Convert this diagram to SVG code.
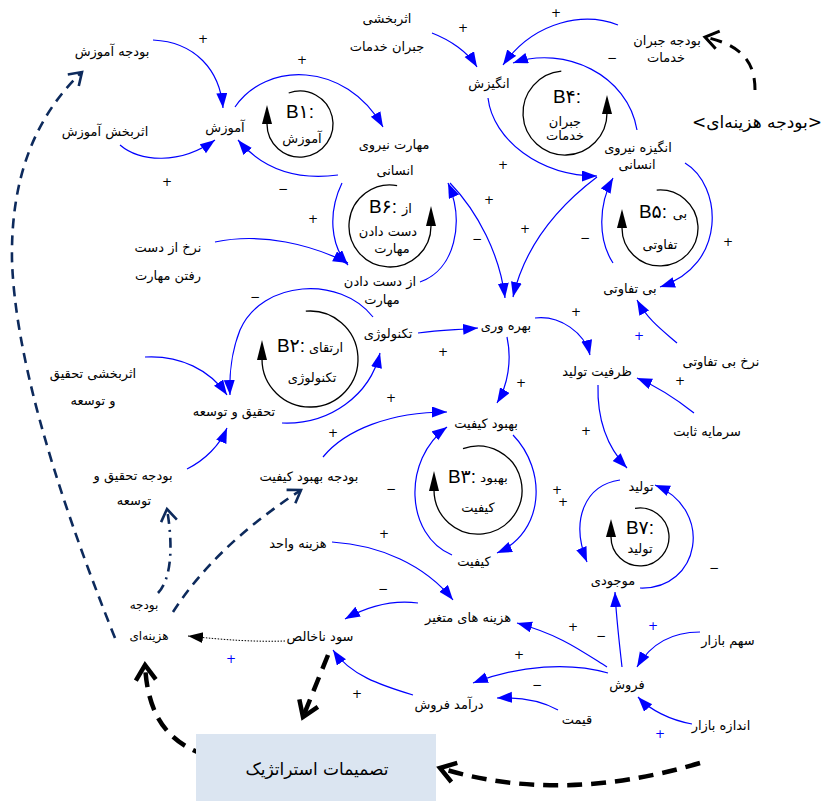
<svg xmlns="http://www.w3.org/2000/svg" width="824" height="801" viewBox="0 0 824 801">
<defs>
<style>
text{font-family:"DejaVu Sans",sans-serif;font-size:13px;fill:#000;text-anchor:middle}
.bl{font-family:"Liberation Sans","DejaVu Sans",sans-serif;font-size:19px}
.lp{font-size:13px}
.sg{font-size:12px}
.sb{font-size:12px;fill:#0000ff}
.c{fill:none;stroke:#0000ff;stroke-width:1.2}
.loop{fill:none;stroke:#000;stroke-width:1.3}
.nv{fill:none;stroke:#0d2a5c;stroke-width:2.6;stroke-dasharray:10 7}
.nvd{fill:none;stroke:#0d2a5c;stroke-width:2.6;stroke-dasharray:10 6 2 6}
.bk{fill:none;stroke:#000;stroke-width:4.5;stroke-dasharray:15 9}
.bk2{fill:none;stroke:#000;stroke-width:3;stroke-dasharray:12 9}
</style>
<marker id="ab" markerUnits="userSpaceOnUse" markerWidth="16" markerHeight="12" refX="15" refY="5.5" orient="auto"><path d="M0,0 L15,5.5 L0,11 z" fill="#0000ff"/></marker>
<marker id="ak" markerUnits="userSpaceOnUse" markerWidth="16" markerHeight="12" refX="15" refY="5.5" orient="auto"><path d="M0,0 L15,5.5 L0,11 z" fill="#000"/></marker>
<marker id="vn" markerUnits="userSpaceOnUse" markerWidth="20" markerHeight="20" refX="14" refY="10" orient="auto"><path d="M2,2 L14,10 L2,18" fill="none" stroke="#0d2a5c" stroke-width="2.6"/></marker>
<marker id="vk" markerUnits="userSpaceOnUse" markerWidth="26" markerHeight="26" refX="18" refY="13" orient="auto"><path d="M3,3 L18,13 L3,23" fill="none" stroke="#000" stroke-width="4.5"/></marker>
<marker id="vk2" markerUnits="userSpaceOnUse" markerWidth="24" markerHeight="24" refX="16" refY="12" orient="auto"><path d="M3,3 L16,12 L3,21" fill="none" stroke="#000" stroke-width="3"/></marker>
</defs>
<rect width="824" height="801" fill="#fff"/>

<g id="connectors">
<path class="c" marker-end="url(#ab)" d="M153,40 C195,42 220,70 223,108"/>
<path class="c" marker-end="url(#ab)" d="M120,145 C140,162 180,165 215,140"/>
<path class="c" marker-end="url(#ab)" d="M235,107 C265,62 345,60 383,127"/>
<path class="c" marker-end="url(#ab)" d="M338,175 C300,180 265,172 238,140"/>
<path class="c" marker-end="url(#ab)" d="M342,183 C328,212 330,245 348,265"/>
<path class="c" marker-end="url(#ab)" d="M215,242 C262,232 312,245 348,263"/>
<path class="c" marker-end="url(#ab)" d="M420,282 C455,270 465,222 448,183"/>
<path class="c" marker-end="url(#ab)" d="M450,183 C478,212 500,255 505,298"/>
<path class="c" marker-end="url(#ab)" d="M597,177 C560,205 525,245 513,297"/>
<path class="c" marker-end="url(#ab)" d="M488,98 C493,140 540,176 597,176"/>
<path class="c" marker-end="url(#ab)" d="M432,33 C450,40 468,52 477,67"/>
<path class="c" marker-end="url(#ab)" d="M618,25 C585,12 535,20 503,65"/>
<path class="c" marker-end="url(#ab)" d="M637,130 C628,75 565,45 513,63"/>
<path class="c" marker-end="url(#ab)" d="M613,263 C598,240 598,205 613,178"/>
<path class="c" marker-end="url(#ab)" d="M685,163 C722,185 728,265 660,287"/>
<path class="c" marker-end="url(#ab)" d="M677,343 C662,330 648,320 637,300"/>
<path class="c" marker-end="url(#ab)" d="M535,318 C560,315 585,333 590,355"/>
<path class="c" marker-end="url(#ab)" d="M694,413 C675,398 656,386 637,378"/>
<path class="c" marker-end="url(#ab)" d="M598,385 C597,420 607,447 627,468"/>
<path class="c" marker-end="url(#ab)" d="M418,333 C440,330 455,330 478,328"/>
<path class="c" marker-end="url(#ab)" d="M507,337 C512,360 508,385 497,403"/>
<path class="c" marker-end="url(#ab)" d="M282,423 C330,425 370,395 380,353"/>
<path class="c" marker-end="url(#ab)" d="M373,317 C340,275 262,280 240,330 C232,350 229,375 230,395"/>
<path class="c" marker-end="url(#ab)" d="M145,357 C180,355 210,370 227,395"/>
<path class="c" marker-end="url(#ab)" d="M187,469 C205,460 220,445 227,428"/>
<path class="c" marker-end="url(#ab)" d="M323,457 C345,430 390,412 447,412"/>
<path class="c" marker-end="url(#ab)" d="M452,555 C405,535 402,460 447,427"/>
<path class="c" marker-end="url(#ab)" d="M513,435 C547,470 545,532 497,553"/>
<path class="c" marker-end="url(#ab)" d="M332,542 C380,545 425,565 453,600"/>
<path class="c" marker-end="url(#ab)" d="M418,603 C395,600 370,605 345,619"/>
<path class="c" marker-end="url(#ab)" d="M413,695 C380,685 350,675 333,650"/>
<path fill="none" stroke="#000" stroke-width="1" stroke-dasharray="1.5 1.5" marker-end="url(#ak)" d="M285,641 C255,642 225,640 188,636"/>
<path class="c" marker-end="url(#ab)" d="M607,667 C580,650 560,635 517,623"/>
<path class="c" marker-end="url(#ab)" d="M608,673 C570,662 520,665 473,683"/>
<path class="c" marker-end="url(#ab)" d="M558,710 C540,700 520,697 497,698"/>
<path class="c" marker-end="url(#ab)" d="M622,667 C619,640 616,615 615,592"/>
<path class="c" marker-end="url(#ab)" d="M700,632 C670,632 650,645 637,667"/>
<path class="c" marker-end="url(#ab)" d="M692,724 C670,720 650,710 638,697"/>
<path class="c" marker-end="url(#ab)" d="M620,480 C585,485 570,520 587,562"/>
<path class="c" marker-end="url(#ab)" d="M640,588 C700,590 715,510 655,485"/>
<path class="nv" marker-end="url(#vn)" d="M115,638 Q16,391 12,260 Q10,140 82,72"/>
<path class="nvd" marker-end="url(#vn)" d="M158,593 C172,578 173,545 167,509"/>
<path class="nv" marker-end="url(#vn)" d="M173,612 C200,570 240,530 301,490"/>
<path class="bk" marker-end="url(#vk)" d="M230,762 C170,750 148,720 145,665"/>
<path class="bk" marker-end="url(#vk)" d="M328,655 L303,717"/>
<path class="bk" marker-end="url(#vk)" d="M700,763 Q560,805 440,768"/>
<path class="bk2" marker-end="url(#vk2)" d="M755,90 C755,60 740,45 705,37"/>
</g>

<g id="polarities">
<text class="sg" x="203" y="43">+</text>
<text class="sg" x="167" y="186">+</text>
<text class="sg" x="302" y="64">+</text>
<text class="sg" x="283" y="193">−</text>
<text class="sg" x="313" y="223">+</text>
<text class="sg" x="477" y="243">−</text>
<text class="sg" x="503" y="169">+</text>
<text class="sg" x="489" y="204">+</text>
<text class="sg" x="525" y="233">+</text>
<text class="sg" x="463" y="32">+</text>
<text class="sg" x="556" y="17">+</text>
<text class="sg" x="612" y="62">−</text>
<text class="sg" x="585" y="242">−</text>
<text class="sg" x="728" y="246">+</text>
<text class="sb" x="639" y="340">+</text>
<text class="sg" x="576" y="316">+</text>
<text class="sg" x="680" y="385">+</text>
<text class="sg" x="586" y="435">+</text>
<text class="sg" x="443" y="356">+</text>
<text class="sg" x="521" y="387">+</text>
<text class="sg" x="391" y="402">+</text>
<text class="sg" x="333" y="437">+</text>
<text class="sg" x="255" y="301">−</text>
<text class="sg" x="391" y="493">−</text>
<text class="sg" x="557" y="494">+</text>
<text class="sg" x="563" y="506">+</text>
<text class="sg" x="384" y="538">+</text>
<text class="sg" x="383" y="593">−</text>
<text class="sg" x="357" y="698">+</text>
<text class="sb" x="231" y="663">+</text>
<text class="sg" x="519" y="659">+</text>
<text class="sg" x="573" y="631">+</text>
<text class="sg" x="601" y="640">−</text>
<text class="sg" x="537" y="689">−</text>
<text class="sb" x="653" y="630">+</text>
<text class="sb" x="660" y="738">+</text>
<text class="sg" x="714" y="572">−</text>
</g>

<g id="loop-B1"><path class="loop" d="M288.7,93 A33,33 0 1 1 267,124"/><polygon points="267,105 262,124 272,124"/><text class="bl" x="300" y="118">B۱:</text><text class="lp" x="302" y="143">آموزش</text></g>
<g id="loop-B4"><path class="loop" d="M561.3,71.2 A42,42 0 1 0 607,113"/><polygon points="607,95 602,114 612,114"/><text class="bl" x="567" y="103">B۴:</text><text class="lp" x="565" y="126">جبران</text><text class="lp" x="565" y="140">خدمات</text></g>
<g id="loop-B5"><path class="loop" d="M656.7,190.1 A38,38 0 1 1 622,228"/><polygon points="622,209 617,228 627,228"/><text class="bl" x="653" y="218">B۵:</text><text class="lp" x="680" y="218">بی</text><text class="lp" x="660" y="249">تفاوتی</text></g>
<g id="loop-B6"><path class="loop" d="M397.1,185.6 A41,41 0 1 0 431,226"/><polygon points="431,206 426,226 436,226"/><text class="bl" x="383" y="213">B۶:</text><text class="lp" x="407" y="213">از</text><text class="lp" x="388" y="236">دست دادن</text><text class="lp" x="392" y="253">مهارت</text></g>
<g id="loop-B2"><path class="loop" d="M305.8,311.2 A48,48 0 1 1 262,359"/><polygon points="262,340 257,360 267,360"/><text class="bl" x="291" y="352">B۲:</text><text class="lp" x="326" y="352" textLength="34" lengthAdjust="spacingAndGlyphs">ارتقای</text><text class="lp" x="312" y="382">تکنولوژی</text></g>
<g id="loop-B3"><path class="loop" d="M463,448.7 A44,44 0 1 1 434,490"/><polygon points="434,471 429,491 439,491"/><text class="bl" x="462" y="483">B۳:</text><text class="sg" x="494" y="482" textLength="28" lengthAdjust="spacingAndGlyphs">بهبود</text><text class="lp" x="478" y="512">کیفیت</text></g>
<g id="loop-B7"><path class="loop" d="M635,508.4 A29,29 0 1 1 611,537"/><polygon points="611,519 606,537 616,537"/><text class="bl" x="640" y="534">B۷:</text><text class="lp" x="640" y="553">تولید</text></g>

<g id="budget-edu"><text x="112" y="56">بودجه آموزش</text></g>
<g id="eff-edu"><text x="105" y="136">اثربخش آموزش</text></g>
<g id="edu"><text x="225" y="132">آموزش</text></g>
<g id="skill"><text x="394" y="149">مهارت نیروی</text><text x="395" y="175">انسانی</text></g>
<g id="loss-rate"><text x="168" y="252">نرخ از دست</text><text x="168" y="280">رفتن مهارت</text></g>
<g id="skill-loss"><text x="380" y="286">از دست دادن</text><text x="382" y="304">مهارت</text></g>
<g id="eff-comp"><text x="387" y="23">اثربخشی</text><text x="387" y="51">جبران خدمات</text></g>
<g id="motivation"><text x="489" y="88">انگیزش</text></g>
<g id="comp-budget"><text x="667" y="45">بودجه جبران</text><text x="666" y="62">خدمات</text></g>
<g id="cost-budget-shadow"><text x="757" y="128" direction="rtl" style="text-anchor:middle;font-size:17px">&lt;بودجه هزینه‌ای&gt;</text></g>
<g id="hr-motivation"><text x="638" y="152">انگیزه نیروی</text><text x="637" y="169">انسانی</text></g>
<g id="indifference"><text x="630" y="293">بی تفاوتی</text></g>
<g id="indiff-rate"><text x="721" y="366">نرخ بی تفاوتی</text></g>
<g id="capacity"><text x="597" y="376">ظرفیت تولید</text></g>
<g id="fixed-capital"><text x="707" y="436">سرمایه ثابت</text></g>
<g id="production"><text x="641" y="491">تولید</text></g>
<g id="inventory"><text x="613" y="585">موجودی</text></g>
<g id="productivity"><text x="506" y="330">بهره وری</text></g>
<g id="technology"><text x="388" y="338">تکنولوژی</text></g>
<g id="rd"><text x="234" y="416">تحقیق و توسعه</text></g>
<g id="eff-rd"><text x="93" y="378">اثربخشی تحقیق</text><text x="93" y="405">و توسعه</text></g>
<g id="budget-rd"><text x="133" y="480">بودجه تحقیق و</text><text x="134" y="505">توسعه</text></g>
<g id="quality-improvement"><text x="486" y="428">بهبود کیفیت</text></g>
<g id="budget-quality"><text x="309" y="481">بودجه بهبود کیفیت</text></g>
<g id="quality"><text x="474" y="566">کیفیت</text></g>
<g id="unit-cost"><text x="298" y="548">هزینه واحد</text></g>
<g id="variable-cost"><text x="468" y="622">هزینه های متغیر</text></g>
<g id="gross-profit"><text x="320" y="641">سود ناخالص</text></g>
<g id="revenue"><text x="449" y="709">درآمد فروش</text></g>
<g id="price"><text x="577" y="724">قیمت</text></g>
<g id="sales"><text x="627" y="689">فروش</text></g>
<g id="market-share"><text x="728" y="645">سهم بازار</text></g>
<g id="market-size"><text x="721" y="730">اندازه بازار</text></g>
<g id="cost-budget"><text x="144" y="609" style="font-size:12px">بودجه</text><text x="149" y="640" style="font-size:12px">هزینه‌ای</text></g>
<g id="strategic-decisions"><rect x="196" y="734" width="240" height="67" fill="#dbe5f1"/><text x="317" y="775" style="font-size:17px">تصمیمات استراتژیک</text></g>
</svg>
